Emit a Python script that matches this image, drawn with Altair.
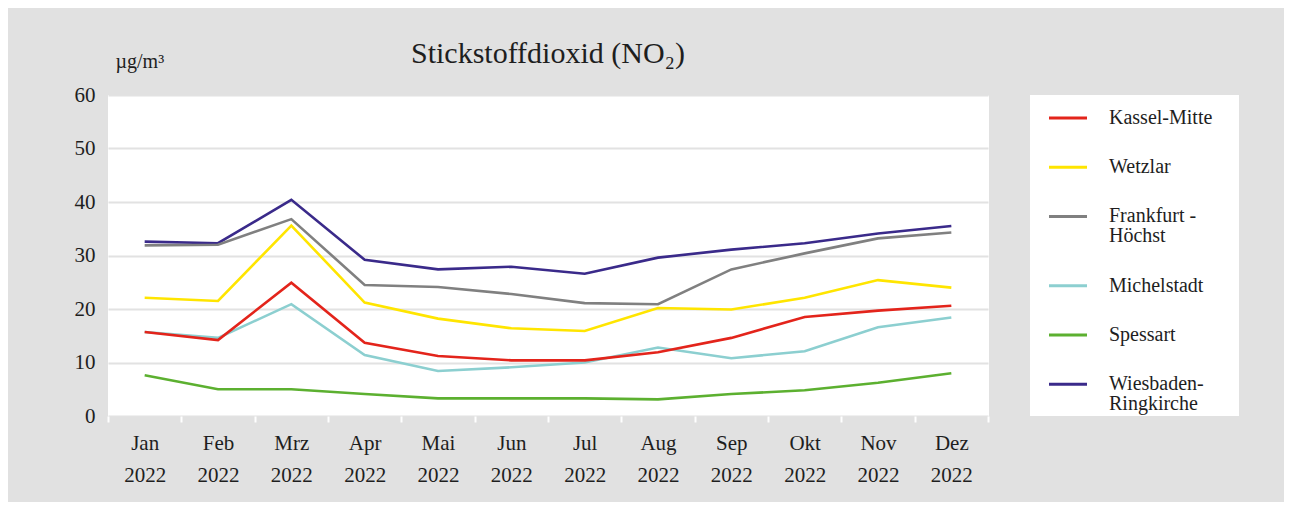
import altair as alt
import pandas as pd

# ---------------- data ----------------
months = ["Jan", "Feb", "Mrz", "Apr", "Mai", "Jun", "Jul", "Aug", "Sep", "Okt", "Nov", "Dez"]
year = "2022"

stations = ["Kassel-Mitte", "Wetzlar", "Frankfurt - Höchst", "Michelstadt", "Spessart", "Wiesbaden-Ringkirche"]
legend_line1 = ["Kassel-Mitte", "Wetzlar", "Frankfurt -", "Michelstadt", "Spessart", "Wiesbaden-"]
legend_line2 = ["", "", "Höchst", "", "", "Ringkirche"]
colors = ["#e3241b", "#ffe500", "#808080", "#8ccfd0", "#5cb030", "#3a2a8a"]

kassel = [15.7, 14.2, 24.9, 13.7, 11.2, 10.4, 10.4, 11.9, 14.6, 18.5, 19.7, 20.6]
wetzlar = [22.1, 21.5, 35.6, 21.2, 18.2, 16.4, 15.9, 20.2, 19.9, 22.1, 25.4, 24.0]
frankfurt = [31.9, 32.0, 36.8, 24.5, 24.1, 22.8, 21.1, 20.9, 27.4, 30.4, 33.2, 34.3]
michelstadt = [15.7, 14.6, 20.9, 11.4, 8.4, 9.1, 10.0, 12.8, 10.8, 12.1, 16.6, 18.4]
spessart = [7.6, 5.0, 5.0, 4.1, 3.3, 3.3, 3.3, 3.1, 4.1, 4.8, 6.2, 8.0]
wiesbaden = [32.6, 32.3, 40.4, 29.2, 27.4, 27.9, 26.6, 29.6, 31.1, 32.3, 34.1, 35.5]

series = [kassel, wetzlar, frankfurt, michelstadt, spessart, wiesbaden]

# ---------------- tables ----------------
month_labels = [f"{m} {year}" for m in months]
rows = []
# reversed so that Kassel-Mitte is drawn last (on top)
for name, vals in reversed(list(zip(stations, series))):
    for lab, v in zip(month_labels, vals):
        rows.append({"monat": lab, "station": name, "wert": v})
df = pd.DataFrame(rows)

# legend rows: each extra text line adds some height to an entry
LINE_EXTRA = 0.41
slots, acc = [], 0.0
for l2 in legend_line2:
    slots.append(acc)
    acc += 1.0 + (LINE_EXTRA if l2 else 0.0)
leg = pd.DataFrame({"station": stations, "line1": legend_line1, "line2": legend_line2, "slot": slots})

FONT = "Liberation Serif"
TXT = "#1e1e1e"
PLOT_W, PLOT_H = 880, 321
LEG_W = 209
ROW_PX, TOP_PX = 49.2, 23.0

color_scale = alt.Scale(domain=stations, range=colors)

main = alt.Chart(df).mark_line(strokeWidth=2.6).encode(
    x=alt.X(
        "monat:N",
        sort=month_labels,
        bandPosition=0.5,
        scale=alt.Scale(type="band", paddingInner=0, paddingOuter=0),
        axis=alt.Axis(
            title=None,
            labelAngle=0,
            labelExpr="split(datum.label, ' ')",
            labelLineHeight=32,
            labelBaseline="top",
            labelPadding=10,
            labelFontSize=21,
            labelColor=TXT,
            labelFont=FONT,
            tickBand="extent",
            tickColor="white",
            tickSize=6,
            tickWidth=2,
            domain=False,
            grid=True,
            gridColor="white",
            gridWidth=1,
        ),
    ),
    y=alt.Y(
        "wert:Q",
        scale=alt.Scale(domain=[0, 60]),
        axis=alt.Axis(
            values=[0, 10, 20, 30, 40, 50, 60],
            title="µg/m³",
            titleAngle=0,
            titleAlign="left",
            titleBaseline="alphabetic",
            titleX=7,
            titleY=-28,
            titleFontSize=20,
            titleFontWeight="normal",
            titleFont=FONT,
            titleColor=TXT,
            labelFontSize=21,
            labelFont=FONT,
            labelColor=TXT,
            labelPadding=13,
            ticks=False,
            domain=False,
            grid=True,
            gridColor="#e2e2e2",
            gridWidth=2,
        ),
    ),
    color=alt.Color("station:N", scale=color_scale, legend=None),
).properties(
    width=PLOT_W,
    height=PLOT_H,
    title=alt.TitleParams(
        text="Stickstoffdioxid (NO₂)",
        font=FONT,
        fontSize=30,
        fontWeight="normal",
        color=TXT,
        anchor="middle",
        frame="group",
        baseline="alphabetic",
        offset=30,
        dy=72,
    ),
)

y_leg = alt.Y(
    "slot:Q",
    axis=None,
    scale=alt.Scale(domain=[-TOP_PX / ROW_PX, (PLOT_H - TOP_PX) / ROW_PX], reverse=True, nice=False, zero=False),
)

leg_base = alt.Chart(leg).encode(y=y_leg)
leg_sym = leg_base.mark_rule(strokeWidth=3).encode(
    x=alt.value(19), x2=alt.value(57),
    color=alt.Color("station:N", scale=color_scale, legend=None),
)
leg_t1 = leg_base.mark_text(align="left", baseline="middle", font=FONT, fontSize=20, color=TXT).encode(
    x=alt.value(79), text="line1:N"
)
leg_t2 = leg_base.mark_text(align="left", baseline="middle", font=FONT, fontSize=20, color=TXT, dy=20).encode(
    x=alt.value(79), text="line2:N"
)
legend_panel = alt.layer(leg_sym, leg_t1, leg_t2).properties(width=LEG_W, height=PLOT_H)

chart = alt.hconcat(main, legend_panel, spacing=42, bounds="flush").properties(
    padding={"left": 66, "top": 31, "right": 45, "bottom": 17},
    background="#e1e1e1",
).configure(
    font=FONT
).configure_view(
    fill="white", stroke=None
)

chart.save("out.html", embed_options={"renderer": "svg", "actions": False})
